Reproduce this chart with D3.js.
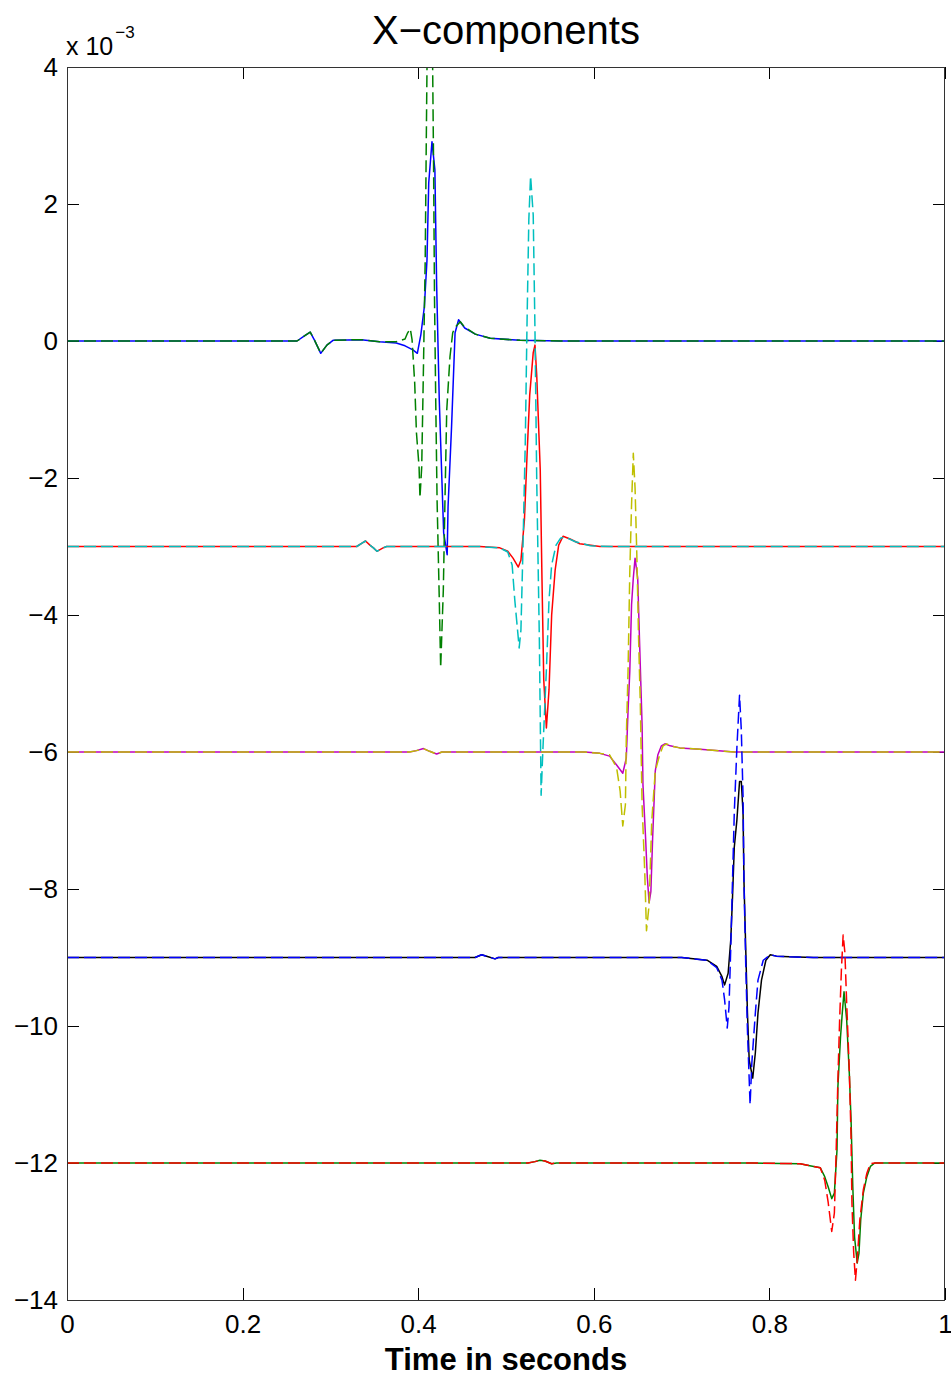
<!DOCTYPE html>
<html>
<head>
<meta charset="utf-8">
<script src="https://cdn.jsdelivr.net/npm/d3@7"></script>
<style>
  html, body { margin: 0; padding: 0; background: #fff; }
  svg { display: block; }
  text { font-family: "Liberation Sans", Arial, Helvetica, sans-serif; fill: #000; }
</style>
</head>
<body>
<svg id="chart" width="951" height="1379"></svg>
<script>
// Vertical offset of each receiver trace (units of 1e-3)
const offsets = [0, -3, -6, -9, -12];

// Axis ticks
const xTicks = [0, 0.2, 0.4, 0.6, 0.8, 1];
const yTicks = [-14, -12, -10, -8, -6, -4, -2, 0, 2, 4];

// Each series: [time (s), amplitude relative to the trace offset (x1e-3)]
// Trace 1
const solid1 = [[0,0],[0.262,0],[0.270,0.07],[0.277,0.13],[0.282,0.01],[0.289,-0.18],[0.296,-0.06],[0.303,0.01],
  [0.335,0.02],[0.356,-0.01],[0.375,-0.03],[0.385,-0.07],[0.394,-0.13],[0.399,-0.18],[0.403,0.09],[0.407,0.50],
  [0.410,1.18],[0.412,2.31],[0.4157,2.91],[0.419,2.50],[0.421,0.82],[0.424,-0.86],[0.427,-2.03],[0.429,-2.80],
  [0.433,-3.12],[0.434,-2.42],[0.438,-1.25],[0.442,0.12],[0.446,0.31],[0.453,0.19],[0.465,0.10],[0.482,0.04],
  [0.516,0.01],[0.562,0],[1,0]];
const dashed1 = [[0,0],[0.262,0],[0.270,0.07],[0.277,0.13],[0.282,0.01],[0.289,-0.18],[0.296,-0.06],[0.303,0.01],
  [0.335,0.02],[0.356,-0.01],[0.375,-0.01],[0.385,0.03],[0.388,0.12],[0.391,0.18],[0.393,0.02],[0.396,-0.61],
  [0.398,-1.34],[0.401,-1.84],[0.402,-2.29],[0.404,-1.84],[0.406,-0.38],[0.408,1.20],[0.409,2.64],[0.410,3.96],
  [0.413,5.90],[0.416,4.60],[0.4175,2.60],[0.4186,0.60],[0.420,-0.90],[0.4215,-2.32],[0.424,-3.77],[0.4256,-4.77],
  [0.4286,-3.64],[0.4305,-2.32],[0.4325,-1.01],[0.4362,-0.23],[0.4393,0.12],[0.4419,0.20],[0.448,0.28],
  [0.453,0.20],[0.465,0.10],[0.482,0.04],[0.516,0.01],[0.562,0],[1,0]];

// Trace 2
const solid2 = [[0,0],[0.330,0],[0.336,0.05],[0.340,0.08],[0.345,0.02],[0.349,-0.02],[0.353,-0.07],[0.360,-0.02],
  [0.364,0],[0.470,0],[0.493,-0.02],[0.502,-0.07],[0.508,-0.17],[0.514,-0.30],[0.517,-0.20],[0.521,0.39],
  [0.524,1.34],[0.527,2.21],[0.531,2.83],[0.533,2.94],[0.535,2.50],[0.539,1.12],[0.541,-0.49],[0.543,-1.95],
  [0.546,-2.65],[0.549,-2.09],[0.552,-1.00],[0.556,-0.34],[0.560,0.02],[0.565,0.15],[0.573,0.11],[0.584,0.04],
  [0.607,0],[1,0]];
const dashed2 = [[0,0],[0.330,0],[0.336,0.05],[0.340,0.08],[0.345,0.02],[0.349,-0.02],[0.353,-0.07],[0.360,-0.02],
  [0.364,0],[0.470,0],[0.493,-0.02],[0.502,-0.08],[0.507,-0.27],[0.510,-0.78],[0.515,-1.48],[0.517,-1.22],
  [0.519,-0.20],[0.522,1.55],[0.524,3.30],[0.526,4.77],[0.528,5.41],[0.531,4.84],[0.533,3.16],[0.535,0.97],
  [0.538,-1.36],[0.540,-3.63],[0.542,-2.97],[0.546,-1.80],[0.549,-0.78],[0.552,-0.27],[0.557,0.02],[0.562,0.12],
  [0.567,0.14],[0.579,0.07],[0.596,0.01],[0.620,0],[1,0]];

// Trace 3
const solid3 = [[0,0],[0.390,0],[0.398,0.02],[0.406,0.05],[0.413,0.01],[0.421,-0.03],[0.427,0],[0.590,0],
  [0.607,-0.02],[0.618,-0.06],[0.626,-0.19],[0.633,-0.31],[0.637,-0.09],[0.639,0.60],[0.641,1.18],[0.643,2.15],
  [0.645,2.54],[0.647,2.83],[0.650,2.54],[0.652,1.66],[0.655,0.39],[0.656,-0.48],[0.659,-1.26],[0.661,-1.84],
  [0.663,-2.20],[0.665,-2.04],[0.667,-1.26],[0.670,-0.28],[0.673,-0.04],[0.677,0.09],[0.681,0.12],[0.687,0.09],
  [0.698,0.06],[0.721,0.04],[0.760,0],[1,0]];
const dashed3 = [[0,0],[0.390,0],[0.398,0.02],[0.406,0.05],[0.413,0.01],[0.421,-0.03],[0.427,0],[0.590,0],
  [0.607,-0.02],[0.618,-0.04],[0.626,-0.23],[0.630,-0.57],[0.633,-1.08],[0.636,-0.77],[0.637,0.20],[0.639,1.18],
  [0.641,2.63],[0.643,3.61],[0.645,4.36],[0.647,3.85],[0.649,2.88],[0.651,1.66],[0.653,0.69],[0.655,-0.77],
  [0.658,-1.74],[0.660,-2.61],[0.663,-2.23],[0.666,-1.01],[0.670,-0.28],[0.675,-0.04],[0.679,0.09],[0.683,0.12],
  [0.687,0.09],[0.698,0.06],[0.721,0.04],[0.760,0],[1,0]];

// Trace 4
const solid4 = [[0,0],[0.4647,0],[0.4723,0.04],[0.4798,0.01],[0.4875,-0.02],[0.4912,0],[0.700,0],
  [0.729,-0.04],[0.740,-0.13],[0.746,-0.28],[0.749,-0.40],[0.753,-0.23],[0.756,0.26],[0.758,0.88],[0.760,1.61],
  [0.763,2.01],[0.766,2.57],[0.768,2.57],[0.770,2.11],[0.771,1.13],[0.773,0.15],[0.775,-0.81],[0.777,-1.50],
  [0.781,-1.76],[0.784,-1.39],[0.787,-0.81],[0.791,-0.33],[0.796,-0.04],[0.801,0.04],[0.808,0.02],[0.823,0.01],
  [0.850,0],[1,0]];
const dashed4 = [[0,0],[0.4647,0],[0.4723,0.04],[0.4798,0.01],[0.4875,-0.02],[0.4912,0],[0.700,0],
  [0.729,-0.04],[0.740,-0.15],[0.746,-0.33],[0.749,-0.62],[0.752,-1.03],[0.754,-0.72],[0.756,0.15],[0.758,1.13],
  [0.760,2.11],[0.763,3.07],[0.766,3.83],[0.768,3.32],[0.770,2.34],[0.771,1.13],[0.773,-0.08],[0.775,-1.06],
  [0.778,-2.15],[0.780,-1.54],[0.784,-0.81],[0.787,-0.33],[0.793,-0.04],[0.801,0.04],[0.808,0.02],[0.823,0.01],
  [0.850,0],[1,0]];

// Trace 5
const solid5 = [[0,0],[0.525,0],[0.533,0.02],[0.5387,0.04],[0.5444,0.03],[0.552,-0.01],[0.5577,0],[0.780,0],
  [0.835,-0.01],[0.846,-0.04],[0.858,-0.07],[0.863,-0.20],[0.867,-0.35],[0.871,-0.52],[0.874,-0.44],[0.877,0.19],
  [0.878,1.11],[0.881,1.84],[0.883,2.19],[0.885,2.50],[0.888,2.09],[0.891,1.31],[0.893,0.63],[0.895,-0.35],
  [0.897,-1.08],[0.900,-1.46],[0.902,-1.32],[0.904,-0.83],[0.907,-0.44],[0.911,-0.20],[0.915,-0.05],[0.920,0],[1,0]];
const dashed5 = [[0,0],[0.525,0],[0.533,0.02],[0.5387,0.04],[0.5444,0.03],[0.552,-0.01],[0.5577,0],[0.780,0],
  [0.835,-0.01],[0.846,-0.04],[0.858,-0.07],[0.863,-0.25],[0.867,-0.58],[0.871,-1.00],[0.874,-0.73],[0.876,0.15],
  [0.878,1.21],[0.880,2.09],[0.882,2.82],[0.884,3.33],[0.886,3.07],[0.888,2.34],[0.891,1.36],[0.893,0.38],
  [0.894,-0.58],[0.896,-1.31],[0.898,-1.71],[0.900,-1.42],[0.903,-0.83],[0.907,-0.39],[0.911,-0.15],[0.915,-0.01],
  [0.920,0],[1,0]];

const solidSeries = [solid1, solid2, solid3, solid4, solid5];
const dashedSeries = [dashed1, dashed2, dashed3, dashed4, dashed5];

// Line colours follow the classic plotting colour order (b g r c m y k)
const solidColors = ["#0000ff", "#ff0000", "#bf00bf", "#000000", "#008000"];
const dashedColors = ["#008000", "#00bfbf", "#bfbf00", "#0000ff", "#ff0000"];

const W = 951, H = 1379;
const margin = { left: 67, right: 6, top: 67, bottom: 79 };

const svg = d3.select("#chart");
svg.append("rect").attr("width", W).attr("height", H).attr("fill", "#fff");

const x = d3.scaleLinear().domain([0, 1]).range([margin.left, W - margin.right]);
const y = d3.scaleLinear().domain([-14, 4]).range([H - margin.bottom, margin.top]);

svg.append("clipPath").attr("id", "plot-clip")
  .append("rect")
  .attr("x", x(0)).attr("y", y(4))
  .attr("width", x(1) - x(0)).attr("height", y(-14) - y(4));

const fmtY = d => (d < 0 ? "\u2212" + Math.abs(d) : String(d));
const fmtX = d => String(+d.toFixed(1));

// Axes with inward ticks on all four sides
const tickLen = 12;
const axisG = svg.append("g").attr("class", "axes");

axisG.append("g").attr("transform", `translate(0,${y(-14)})`)
  .call(d3.axisBottom(x).tickValues(xTicks).tickFormat(fmtX).tickSizeInner(-tickLen).tickSizeOuter(0).tickPadding(15));
axisG.append("g").attr("transform", `translate(${x(0)},0)`)
  .call(d3.axisLeft(y).tickValues(yTicks).tickFormat(fmtY).tickSizeInner(-tickLen).tickSizeOuter(0).tickPadding(9));
axisG.append("g").attr("transform", `translate(0,${y(4)})`)
  .call(d3.axisTop(x).tickValues(xTicks).tickFormat("").tickSizeInner(-tickLen).tickSizeOuter(0));
axisG.append("g").attr("transform", `translate(${x(1)},0)`)
  .call(d3.axisRight(y).tickValues(yTicks).tickFormat("").tickSizeInner(-tickLen).tickSizeOuter(0));

axisG.selectAll(".domain").remove();
axisG.selectAll(".tick line").attr("stroke", "#000").attr("shape-rendering", "crispEdges");
axisG.selectAll(".tick text")
  .attr("font-family", "'Liberation Sans', Arial, sans-serif")
  .attr("font-size", 26).attr("fill", "#000");

// Traces
const line = d3.line().x(d => x(d[0])).y(d => y(d[1]));
const traces = svg.append("g").attr("clip-path", "url(#plot-clip)");

solidSeries.forEach((s, i) => {
  const pts = s.map(p => [p[0], p[1] + offsets[i]]);
  traces.append("path").datum(pts)
    .attr("d", line).attr("fill", "none")
    .attr("stroke", solidColors[i]).attr("stroke-width", 1.5)
    .attr("stroke-linejoin", "round");
  const dpts = dashedSeries[i].map(p => [p[0], p[1] + offsets[i]]);
  traces.append("path").datum(dpts)
    .attr("d", line).attr("fill", "none")
    .attr("stroke", dashedColors[i]).attr("stroke-width", 1.5)
    .attr("stroke-dasharray", "12,5").attr("stroke-linejoin", "round");
});

// Plot frame
svg.append("rect")
  .attr("x", x(0) + 0.5).attr("y", y(4) + 0.5)
  .attr("width", x(1) - x(0) - 1).attr("height", y(-14) - y(4))
  .attr("fill", "none").attr("stroke", "#333").attr("stroke-width", 1)
  .attr("shape-rendering", "crispEdges");

// Scale factor label
const sf = svg.append("text").attr("x", x(0) - 1).attr("y", 55).attr("font-size", 25);
sf.append("tspan").text("x 10");
sf.append("tspan").attr("font-size", 17).attr("dy", -17).attr("dx", 2).text("\u22123");

// Title
svg.append("text")
  .attr("x", (x(0) + x(1)) / 2).attr("y", 44)
  .attr("text-anchor", "middle").attr("font-size", 40)
  .text("X\u2212components");

// X axis title
svg.append("text")
  .attr("x", (x(0) + x(1)) / 2).attr("y", 1370)
  .attr("text-anchor", "middle").attr("font-size", 31).attr("font-weight", "bold")
  .text("Time in seconds");
</script>
</body>
</html>
